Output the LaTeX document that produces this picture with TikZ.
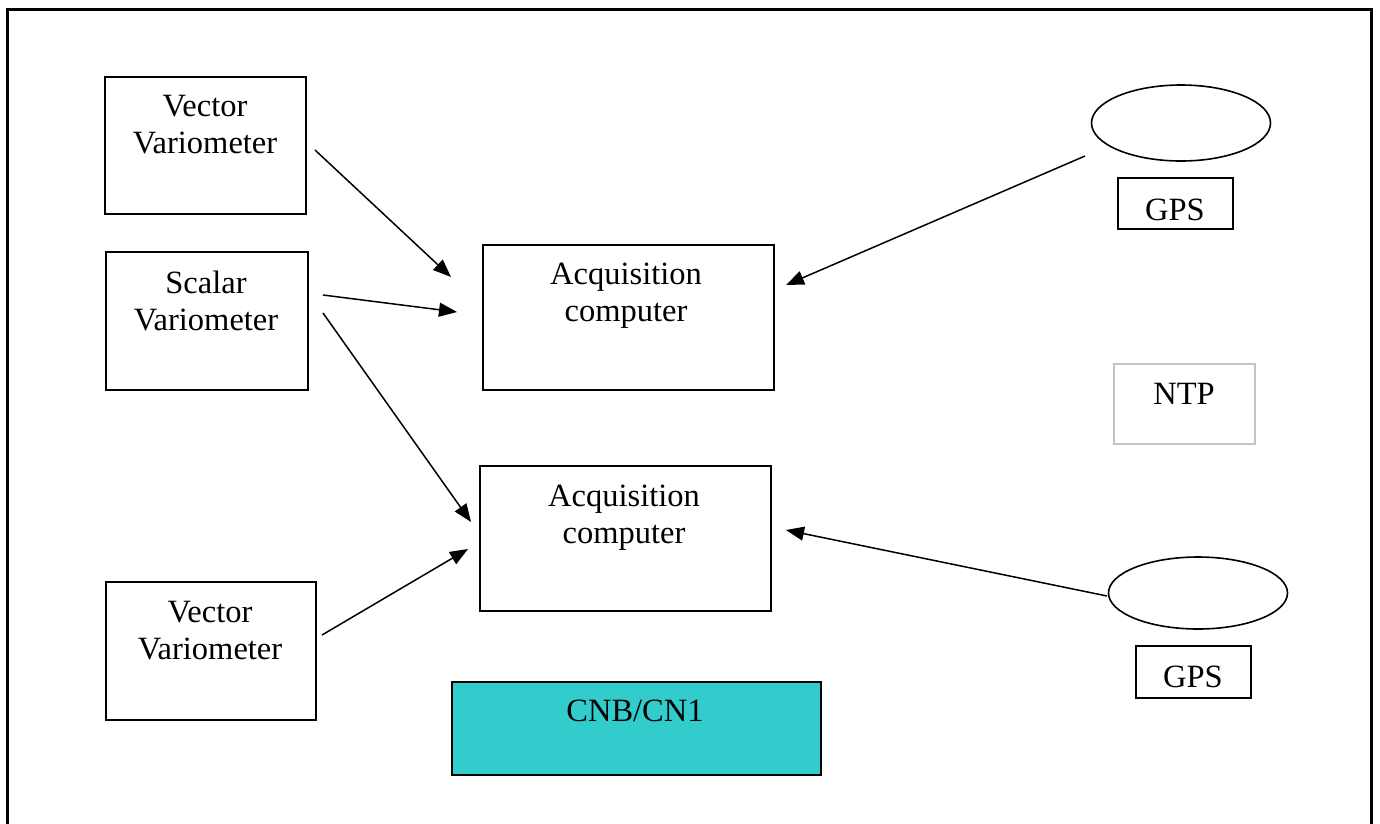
\documentclass[tikz,border=0pt]{standalone}
\usepackage{fontspec}
\setmainfont{Liberation Serif}
\usetikzlibrary{arrows.meta,shapes.geometric}
\definecolor{teal33}{HTML}{33CCCC}
\definecolor{ntpgray}{HTML}{C4C4C4}
\tikzset{
  box/.style={draw=black, line width=1.6pt, anchor=north west, inner sep=0pt},
  txt/.style={anchor=north, inner sep=0pt, align=center, font=\fontsize{32.5}{37}\selectfont},
  oval/.style={draw=black, line width=1.6pt, ellipse, inner sep=0pt},
  conn/.style={line width=1.5pt, -{Triangle[length=18pt,width=14pt]}},
}
\begin{document}
\begin{tikzpicture}[x=1pt,y=-1pt]
\useasboundingbox (0,0) rectangle (1380,823);
% outer frame (bottom edge beyond the page)
\draw[line width=3pt] (7,826) -- (7,9) -- (1371,9) -- (1371,826);

% boxes
\node[box, minimum width=201pt, minimum height=137pt] (vv1) at (104,76) {};
\node[box, minimum width=202pt, minimum height=138pt] (sv) at (105,251) {};
\node[box, minimum width=210pt, minimum height=138pt] (vv2) at (105,581) {};
\node[box, minimum width=291pt, minimum height=145pt] (ac1) at (482,244) {};
\node[box, minimum width=291pt, minimum height=145pt] (ac2) at (479,465) {};
\node[box, fill=teal33, minimum width=369pt, minimum height=93pt] (cnb) at (451,681) {};
\node[box, minimum width=115pt, minimum height=51pt] (gps1) at (1117,177) {};
\node[box, minimum width=115pt, minimum height=52pt] (gps2) at (1135,645) {};
\node[box, draw=ntpgray, line width=1.6pt, minimum width=141pt, minimum height=80pt] (ntp) at (1113,363) {};
\node[oval, minimum width=179pt, minimum height=76pt] (ell1) at (1181,123) {};
\node[oval, minimum width=179pt, minimum height=72pt] (ell2) at (1198,593) {};

% texts
\node[txt] (vv1t) at (205,95) {Vector\\Variometer};
\node[txt] (svt) at (206,271) {Scalar\\Variometer};
\node[txt] (vv2t) at (210,601) {Vector\\Variometer};
\node[txt] (ac1t) at (626,263) {Acquisition\\computer};
\node[txt] (ac2t) at (624,485) {Acquisition\\computer};
\node[txt] (cnbt) at (635,700) {CNB/CN1};
\node[txt] (gps1t) at (1175,199) {GPS};
\node[txt] (gps2t) at (1193,666) {GPS};
\node[txt] (ntpt) at (1184,383) {NTP};

% connector end points
\coordinate (a1s) at (315,150);
\coordinate (a1e) at (451,277);
\coordinate (a2s) at (323,295);
\coordinate (a2e) at (457,312);
\coordinate (a3s) at (323,313);
\coordinate (a3e) at (471,522);
\coordinate (a4s) at (322,635);
\coordinate (a4e) at (468,549);
\coordinate (a5s) at (1085,156);
\coordinate (a5e) at (786,285);
\coordinate (a6s) at (1107,596);
\coordinate (a6e) at (786,530);

\draw[conn] (a1s) -- (a1e);
\draw[conn] (a2s) -- (a2e);
\draw[conn] (a3s) -- (a3e);
\draw[conn] (a4s) -- (a4e);
\draw[conn] (a5s) -- (a5e);
\draw[conn] (a6s) -- (a6e);
\end{tikzpicture}
\end{document}
